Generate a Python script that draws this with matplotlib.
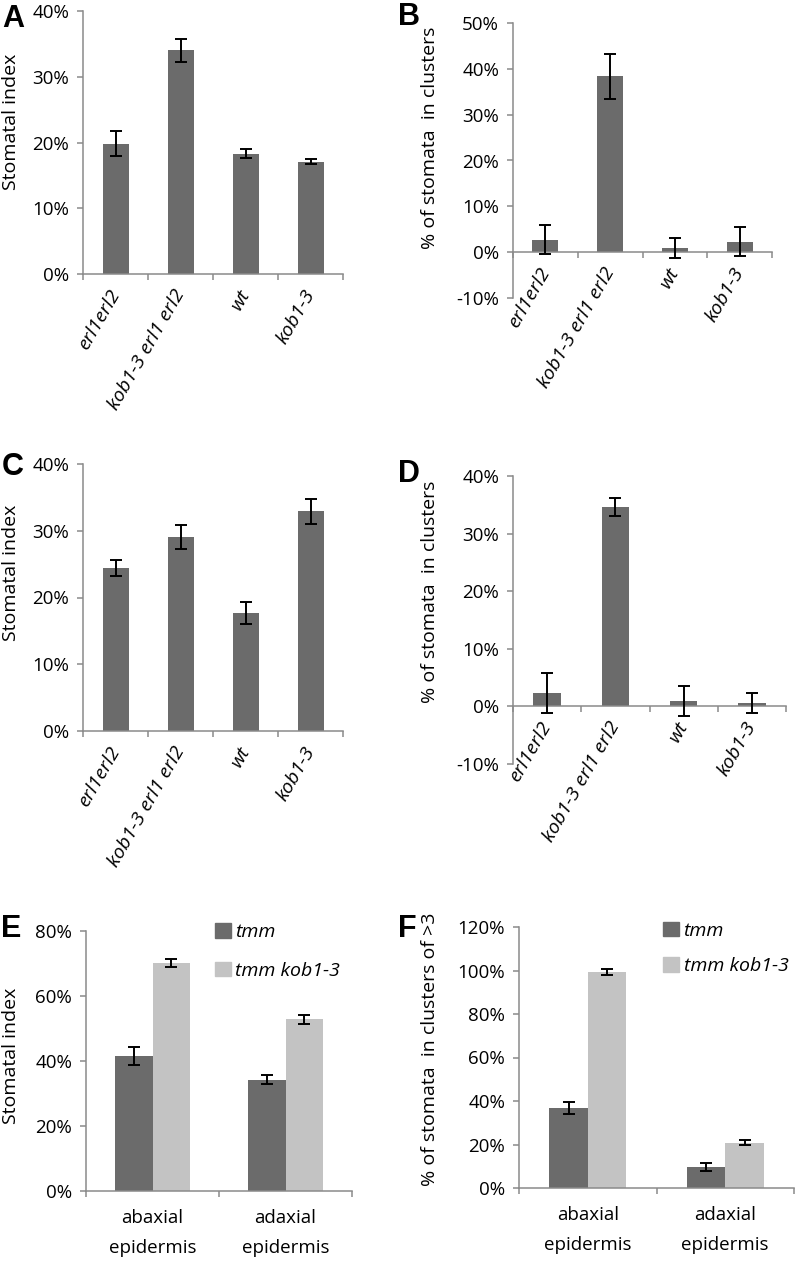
import matplotlib
matplotlib.use('Agg')
import matplotlib.pyplot as plt
from matplotlib.patches import Patch
from matplotlib.ticker import FuncFormatter
import numpy as np

plt.rcParams['font.family'] = ['Open Sans', 'DejaVu Sans']
plt.rcParams['axes.unicode_minus'] = False

# genotypes, panels A-D
cats = ['erl1erl2', 'kob1-3 erl1 erl2', 'wt', 'kob1-3']
a_vals = [19.8, 34.0, 18.3, 17.1]
a_err = [1.9, 1.7, 0.7, 0.4]
b_vals = [2.7, 38.4, 0.9, 2.3]
b_err = [3.2, 4.9, 2.1, 3.1]
c_vals = [24.4, 29.0, 17.7, 32.9]
c_err = [1.2, 1.8, 1.7, 1.9]
d_vals = [2.3, 34.6, 0.9, 0.6]
d_err = [3.5, 1.6, 2.6, 1.7]

# panels E-F
groups = ['abaxial\nepidermis', 'adaxial\nepidermis']
series = ['tmm', 'tmm kob1-3']
e_tmm = [41.5, 34.2]
e_tmm_err = [2.7, 1.4]
e_kob = [70.2, 52.8]
e_kob_err = [1.3, 1.4]
f_tmm = [36.6, 9.8]
f_tmm_err = [2.8, 1.8]
f_kob = [99.2, 20.9]
f_kob_err = [1.45, 1.0]

dark = '#6b6b6b'
light = '#c3c3c3'
axcol = '#8a8a8a'
pct = FuncFormatter(lambda v, p: '%d%%' % round(v))

fig = plt.figure(figsize=(7.97, 12.62), dpi=100)
W, H = 797.0, 1262.0


def add_ax(l, r, t, b):
    return fig.add_axes([l / W, 1 - b / H, (r - l) / W, (b - t) / H])


def style(ax, ylim, step):
    ax.set_ylim(*ylim)
    ax.set_yticks(np.arange(ylim[0], ylim[1] + 0.01, step))
    ax.yaxis.set_major_formatter(pct)
    for s in ['top', 'right']:
        ax.spines[s].set_visible(False)
    for s in ['left', 'bottom']:
        ax.spines[s].set_color(axcol)
        ax.spines[s].set_linewidth(1.1)
    ax.tick_params(axis='y', length=4, width=1.1, color=axcol, pad=6, labelsize=13.5)
    ax.tick_params(axis='x', which='major', length=0, labelsize=13)
    ax.tick_params(axis='x', which='minor', length=4.5, width=1.1, color=axcol)


def genotype_panel(ax, vals, err, ylim, step):
    x = np.arange(len(cats))
    ax.bar(x, vals, width=0.4, color=dark, zorder=2)
    ax.errorbar(x, vals, yerr=err, fmt='none', ecolor='black', elinewidth=1.4,
                capsize=4, capthick=1.4, zorder=3)
    ax.set_xlim(-0.5, len(cats) - 0.5)
    style(ax, ylim, step)
    ax.spines['bottom'].set_position(('data', 0))
    ax.set_xticks(x)
    ax.set_xticks(np.arange(-0.5, len(cats)), minor=True)
    ax.set_xticklabels(cats, rotation=60, ha='right', va='center',
                       rotation_mode='anchor', style='italic')
    ax.tick_params(axis='x', which='major', pad=12, labelsize=14)


def group_panel(ax, v1, e1, v2, e2, ylim, step):
    x = np.arange(len(groups))
    w = 0.28
    ax.bar(x - w / 2, v1, width=w, color=dark, zorder=2)
    ax.bar(x + w / 2, v2, width=w, color=light, zorder=2)
    ax.errorbar(x - w / 2, v1, yerr=e1, fmt='none', ecolor='black', elinewidth=1.4,
                capsize=4, capthick=1.4, zorder=3)
    ax.errorbar(x + w / 2, v2, yerr=e2, fmt='none', ecolor='black', elinewidth=1.4,
                capsize=4, capthick=1.4, zorder=3)
    ax.set_xlim(-0.5, len(groups) - 0.5)
    style(ax, ylim, step)
    ax.set_xticks(x)
    ax.set_xticks(np.arange(-0.5, len(groups)), minor=True)
    ax.set_xticklabels(groups, linespacing=1.85)
    ax.tick_params(axis='x', which='major', pad=13, labelsize=13.5)


axA = add_ax(83, 343, 11, 274)
genotype_panel(axA, a_vals, a_err, (0, 40), 10)
axB = add_ax(513, 772, 23, 298)
genotype_panel(axB, b_vals, b_err, (-10, 50), 10)
axC = add_ax(83, 343, 464, 731)
genotype_panel(axC, c_vals, c_err, (0, 40), 10)
axD = add_ax(513, 786, 476, 764)
genotype_panel(axD, d_vals, d_err, (-10, 40), 10)
axE = add_ax(86, 352, 931, 1191)
group_panel(axE, e_tmm, e_tmm_err, e_kob, e_kob_err, (0, 80), 20)
axF = add_ax(519, 794, 927, 1188)
group_panel(axF, f_tmm, f_tmm_err, f_kob, f_kob_err, (0, 120), 20)

handles = [Patch(color=dark, label=series[0]), Patch(color=light, label=series[1])]
for ax, anchor, sp in [(axE, (0.485, 1.03), 1.05), (axF, (0.524, 1.02), 0.9)]:
    leg = ax.legend(handles=handles, loc='upper left', bbox_to_anchor=anchor,
                    frameon=False, borderpad=0, borderaxespad=0, handlelength=0.8,
                    handleheight=0.75, handletextpad=0.25, labelspacing=sp,
                    prop={'size': 14, 'style': 'italic'})

# y labels
ylab = [(11, 122, 'Stomatal index'), (430, 138, '% of stomata  in clusters'),
        (11, 573, 'Stomatal index'), (430, 592, '% of stomata  in clusters'),
        (11, 1056, 'Stomatal index'), (430, 1049, '% of stomata  in clusters of >3')]
for x, y, t in ylab:
    fig.text(x / W, 1 - y / H, t, rotation=90, ha='center', va='center', fontsize=14)

# panel letters
letters = [(2, 27, 'A'), (398, 25, 'B'), (2, 475, 'C'), (398, 482, 'D'),
           (1, 937, 'E'), (398, 937, 'F')]
for x, y, t in letters:
    fig.text(x / W, 1 - y / H, t, ha='left', va='baseline', fontsize=22,
             fontweight='bold', family='Liberation Sans')

fig.savefig('out.png', dpi=100)
